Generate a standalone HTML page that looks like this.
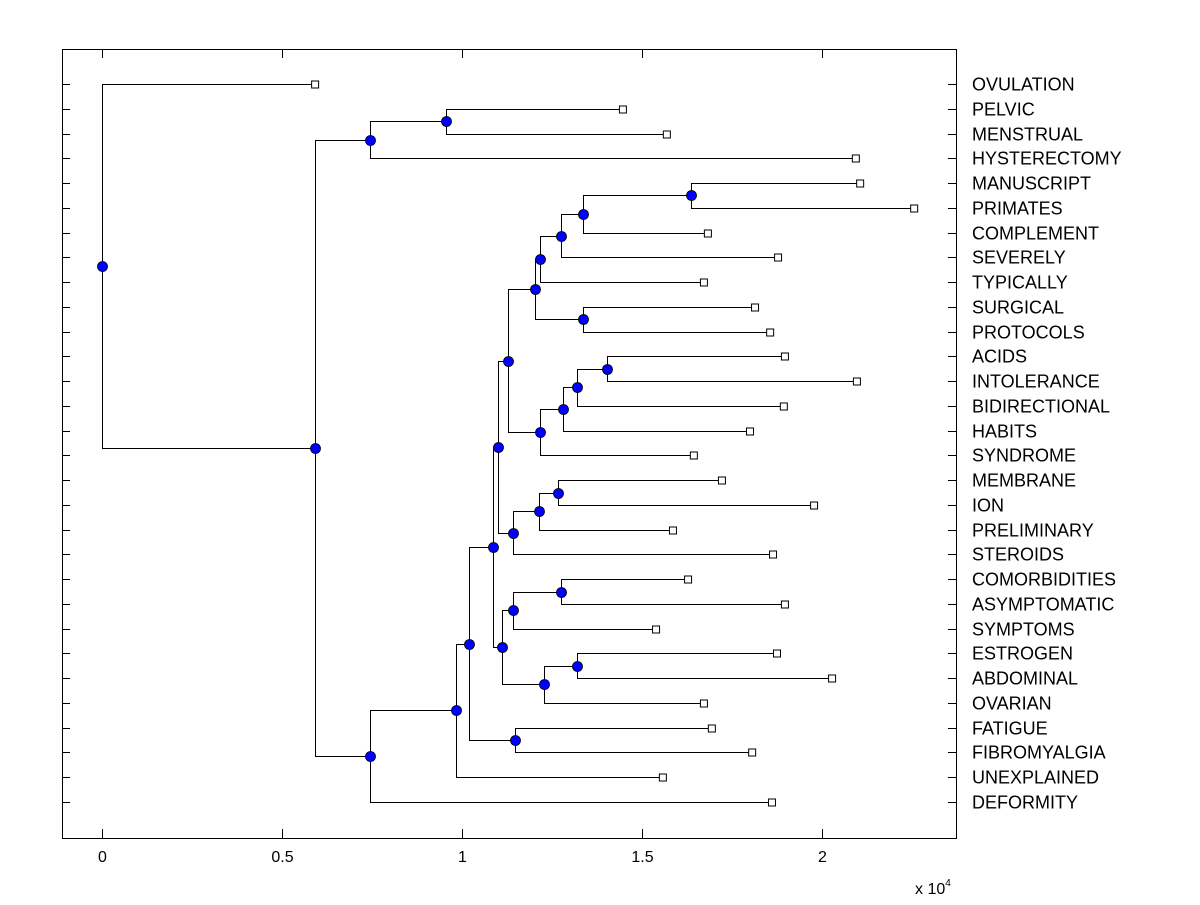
<!DOCTYPE html>
<html><head><meta charset="utf-8"><style>
body{margin:0;background:#fff;}
svg text{font-family:"Liberation Sans",Arial,sans-serif;}
</style></head><body>
<svg id="chart" width="1200" height="900" xmlns="http://www.w3.org/2000/svg"></svg>
<script>
const leafNames=["OVULATION","PELVIC","MENSTRUAL","HYSTERECTOMY","MANUSCRIPT","PRIMATES","COMPLEMENT","SEVERELY","TYPICALLY","SURGICAL","PROTOCOLS","ACIDS","INTOLERANCE","BIDIRECTIONAL","HABITS","SYNDROME","MEMBRANE","ION","PRELIMINARY","STEROIDS","COMORBIDITIES","ASYMPTOMATIC","SYMPTOMS","ESTROGEN","ABDOMINAL","OVARIAN","FATIGUE","FIBROMYALGIA","UNEXPLAINED","DEFORMITY"];
const leafValues=[0.592,1.447,1.569,2.094,2.106,2.256,1.683,1.878,1.672,1.814,1.856,1.897,2.097,1.894,1.8,1.644,1.722,1.978,1.586,1.864,1.628,1.897,1.539,1.875,2.028,1.672,1.694,1.806,1.558,1.861];
const nodeIds=["root","A","B","D","C","E","F","G","H","I","J","K","L","M","N","O","P","Q","R","S","T","U","V","W","X","Y","Z","AA","AB"];
const nodeLeft=["OVULATION","B","D","PELVIC","E","F","G","I","FATIGUE","K","Y","M","W","O","T","Q","SURGICAL","R","S","MANUSCRIPT","U","V","ACIDS","X","MEMBRANE","AA","AB","COMORBIDITIES","ESTROGEN"];
const nodeRight=["A","C","HYSTERECTOMY","MENSTRUAL","DEFORMITY","UNEXPLAINED","H","J","FIBROMYALGIA","L","Z","N","STEROIDS","P","SYNDROME","TYPICALLY","PROTOCOLS","SEVERELY","COMPLEMENT","PRIMATES","HABITS","BIDIRECTIONAL","INTOLERANCE","PRELIMINARY","ION","SYMPTOMS","OVARIAN","ASYMPTOMATIC","ABDOMINAL"];
const nodeHeights=[0,0.592,0.744,0.956,0.744,0.983,1.019,1.086,1.147,1.1,1.111,1.128,1.142,1.203,1.217,1.217,1.336,1.275,1.336,1.636,1.281,1.319,1.403,1.214,1.267,1.142,1.228,1.275,1.319];
const xTicks=[0,0.5,1,1.5,2];
const xTickLabels=["0","0.5","1","1.5","2"];

const svg=document.getElementById('chart');
const NS="http://www.w3.org/2000/svg";
const L=62,R=956,T=49,B=838;
const xs=v=>102+v*360;
const ys=i=>84+i*(802-84)/(leafNames.length-1);
function mk(tag,attrs,parent){const e=document.createElementNS(NS,tag);for(const k in attrs)e.setAttribute(k,attrs[k]);(parent||svg).appendChild(e);return e;}

const box=mk('rect',{x:L+0.5,y:T+0.5,width:R-L,height:B-T,fill:'none',stroke:'#000','stroke-width':1});



xTicks.forEach((t,i)=>{
  const x=Math.round(xs(t))+0.5;
  const g=mk('g',{});
  
  
  mk('line',{x1:x,x2:x,y1:B,y2:B-9,stroke:'#000'},g);
  mk('line',{x1:x,x2:x,y1:T,y2:T+9,stroke:'#000'},g);
  const tx=mk('text',{x:x,y:862,'font-size':16,'text-anchor':'middle'},g);
  tx.textContent=xTickLabels[i];
});
const ex=mk('text',{x:915,y:894,'font-size':16});


ex.innerHTML='x 10<tspan dy="-8" font-size="10">4</tspan>';

const pos={};
leafNames.forEach((n,i)=>{pos[n]={x:xs(leafValues[i]),y:ys(i)};});
function getPos(id){
  if(pos[id])return pos[id];
  const k=nodeIds.indexOf(id);
  const a=getPos(nodeLeft[k]),b=getPos(nodeRight[k]);
  pos[id]={x:xs(nodeHeights[k]),y:(a.y+b.y)/2};
  return pos[id];
}
const linesG=mk('g',{});


nodeIds.forEach((id,k)=>{
  const p=getPos(id),a=getPos(nodeLeft[k]),b=getPos(nodeRight[k]);
  const x=Math.round(p.x)+0.5;
  const pl=mk('polyline',{points:`${a.x},${Math.round(a.y)+0.5} ${x},${Math.round(a.y)+0.5} ${x},${Math.round(b.y)+0.5} ${b.x},${Math.round(b.y)+0.5}`,fill:'none',stroke:'#000','stroke-width':1},linesG);
  
  
});
leafNames.forEach((n,i)=>{
  const y=Math.round(ys(i))+0.5;
  const g=mk('g',{});
  
  
  mk('line',{x1:L,x2:L+8,y1:y,y2:y,stroke:'#000'},g);
  mk('line',{x1:R-8,x2:R,y1:y,y2:y,stroke:'#000'},g);
  mk('rect',{x:pos[n].x-3.5,y:y-3.5,width:7,height:7,fill:'#fff',stroke:'#000'},g);
  const t=mk('text',{x:972,y:y+6,'font-size':18},g);
  t.textContent=n;
});
nodeIds.forEach(id=>{
  const p=getPos(id);
  const c=mk('circle',{cx:Math.round(p.x)+0.5,cy:Math.round(p.y)+0.5,r:5,fill:'#0000ff',stroke:'#000','stroke-width':0.8});
  
  
});
</script>
</body></html>
